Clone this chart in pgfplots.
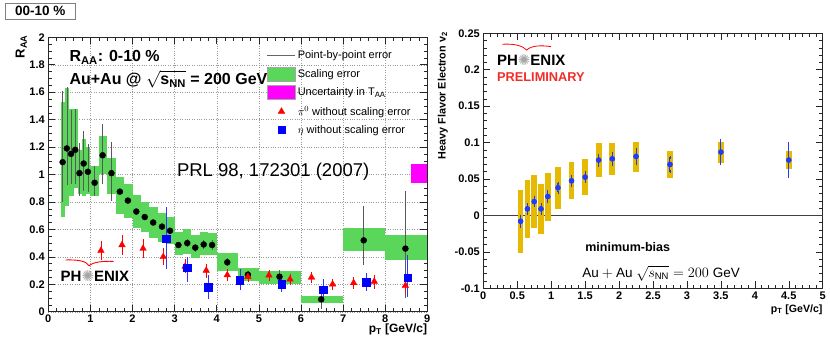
\documentclass[border=0pt]{standalone}
\usepackage{pgfplots}
\pgfplotsset{compat=1.18}
\usepackage{fontspec}
\setmainfont{Liberation Sans}
\newfontfamily\dejavu{DejaVu Sans}
\definecolor{sgreen}{RGB}{90,214,90}
\definecolor{tmag}{RGB}{255,0,255}
\definecolor{v2yellow}{RGB}{230,186,0}
\definecolor{v2blue}{RGB}{30,60,255}
\definecolor{prelred}{RGB}{240,45,40}
\newcommand{\fs}[1]{\fontsize{#1bp}{#1bp}\selectfont}
\newcommand{\phxlogo}{PH{\dejavu\color{black!35}\char"273A}ENIX}
\pgfplotsset{
  rootaxis/.style={
    scale only axis, anchor=south west, clip=true,
    axis line style={black!85, line width=0.6bp},
    tick style={black!85, line width=0.5bp},
    major tick length=7bp, minor tick length=3.5bp,
    tick align=inside, tick pos=both,
    tick label style={font=\bfseries\fs{11}},
    scaled ticks=false,
    /pgf/number format/fixed,
    /pgf/number format/precision=2,
    /pgf/number format/assume math mode=true,
  }
}
\begin{document}
\begin{tikzpicture}
\path[use as bounding box] (0,0) rectangle (830bp,348bp);

% ---------------- left panel ----------------
\begin{axis}[rootaxis, at={(48.3bp,36.3bp)}, width=379bp, height=274.4bp,
  xmin=0, xmax=9, ymin=0, ymax=2,
  xtick={0,1,2,3,4,5,6,7,8,9},
  ytick={0,0.2,0.4,0.6,0.8,1,1.2,1.4,1.6,1.8,2},
  minor x tick num=4, minor y tick num=3,
  grid=major, major grid style={dotted, black!40, line width=0.4bp},
  xlabel={p\textsubscript{T} [GeV/c]},
  xlabel style={at={(rel axis cs:1,0)}, anchor=north east, yshift=-12bp, inner sep=0pt, font=\bfseries\fs{12}},
  ylabel={R\textsubscript{AA}},
  ylabel style={at={(axis description cs:-0.056,1.008)}, anchor=south east, inner sep=0pt, font=\bfseries\fs{13}},
  legend style={at={(axis description cs:0.577,0.958)}, anchor=north west, draw=none, fill=none,
     font=\fs{11}, row sep=4.3bp, inner sep=0pt, cells={anchor=west}},
]
% scaling error boxes
\addplot[fill=sgreen, draw=none, forget plot] coordinates {(0.30,0.69) (0.40,0.69) (0.40,1.53) (0.30,1.53)};
\addplot[fill=sgreen, draw=none, forget plot] coordinates {(0.40,0.77) (0.50,0.77) (0.50,1.63) (0.40,1.63)};
\addplot[fill=sgreen, draw=none, forget plot] coordinates {(0.50,0.84) (0.60,0.84) (0.60,1.48) (0.50,1.48)};
\addplot[fill=sgreen, draw=none, forget plot] coordinates {(0.60,0.90) (0.70,0.90) (0.70,1.48) (0.60,1.48)};
\addplot[fill=sgreen, draw=none, forget plot] coordinates {(0.70,0.86) (0.80,0.86) (0.80,1.18) (0.70,1.18)};
\addplot[fill=sgreen, draw=none, forget plot] coordinates {(0.80,0.84) (0.90,0.84) (0.90,1.26) (0.80,1.26)};
\addplot[fill=sgreen, draw=none, forget plot] coordinates {(0.90,0.86) (1.00,0.86) (1.00,1.20) (0.90,1.20)};
\addplot[fill=sgreen, draw=none, forget plot] coordinates {(1.00,0.84) (1.20,0.84) (1.20,1.06) (1.00,1.06)};
\addplot[fill=sgreen, draw=none, forget plot] coordinates {(1.20,1.00) (1.40,1.00) (1.40,1.28) (1.20,1.28)};
\addplot[fill=sgreen, draw=none, forget plot] coordinates {(1.40,0.86) (1.60,0.86) (1.60,1.12) (1.40,1.12)};
\addplot[fill=sgreen, draw=none, forget plot] coordinates {(1.60,0.71) (1.80,0.71) (1.80,0.98) (1.60,0.98)};
\addplot[fill=sgreen, draw=none, forget plot] coordinates {(1.80,0.68) (2.00,0.68) (2.00,0.93) (1.80,0.93)};
\addplot[fill=sgreen, draw=none, forget plot] coordinates {(2.00,0.61) (2.20,0.61) (2.20,0.85) (2.00,0.85)};
\addplot[fill=sgreen, draw=none, forget plot] coordinates {(2.20,0.58) (2.40,0.58) (2.40,0.80) (2.20,0.80)};
\addplot[fill=sgreen, draw=none, forget plot] coordinates {(2.40,0.54) (2.60,0.54) (2.60,0.76) (2.40,0.76)};
\addplot[fill=sgreen, draw=none, forget plot] coordinates {(2.60,0.51) (2.80,0.51) (2.80,0.72) (2.60,0.72)};
\addplot[fill=sgreen, draw=none, forget plot] coordinates {(2.80,0.49) (3.00,0.49) (3.00,0.69) (2.80,0.69)};
\addplot[fill=sgreen, draw=none, forget plot] coordinates {(3.00,0.41) (3.20,0.41) (3.20,0.58) (3.00,0.58)};
\addplot[fill=sgreen, draw=none, forget plot] coordinates {(3.20,0.42) (3.40,0.42) (3.40,0.60) (3.20,0.60)};
\addplot[fill=sgreen, draw=none, forget plot] coordinates {(3.40,0.39) (3.60,0.39) (3.60,0.56) (3.40,0.56)};
\addplot[fill=sgreen, draw=none, forget plot] coordinates {(3.60,0.41) (3.80,0.41) (3.80,0.58) (3.60,0.58)};
\addplot[fill=sgreen, draw=none, forget plot] coordinates {(3.80,0.41) (4.00,0.41) (4.00,0.575) (3.80,0.575)};
\addplot[fill=sgreen, draw=none, forget plot] coordinates {(4.00,0.30) (4.50,0.30) (4.50,0.43) (4.00,0.43)};
\addplot[fill=sgreen, draw=none, forget plot] coordinates {(4.50,0.225) (5.00,0.225) (5.00,0.32) (4.50,0.32)};
\addplot[fill=sgreen, draw=none, forget plot] coordinates {(5.00,0.20) (6.00,0.20) (6.00,0.30) (5.00,0.30)};
\addplot[fill=sgreen, draw=none, forget plot] coordinates {(6.00,0.06) (7.00,0.06) (7.00,0.114) (6.00,0.114)};
\addplot[fill=sgreen, draw=none, forget plot] coordinates {(7.00,0.44) (8.00,0.44) (8.00,0.61) (7.00,0.61)};
\addplot[fill=sgreen, draw=none, forget plot] coordinates {(8.00,0.38) (9.00,0.38) (9.00,0.56) (8.00,0.56)};
% T_AA uncertainty
\addplot[fill=tmag, draw=none, forget plot] coordinates {(8.62,0.94) (9.00,0.94) (9.00,1.075) (8.62,1.075)};
% charged hadron R_AA (black)
\addplot[only marks, mark=*, mark size=3bp, black, forget plot,
  error bars/.cd, y dir=both, y explicit, error mark=none,
  error bar style={black!65, line width=0.5bp}]
coordinates {
 (0.34,1.09) += (0,0.52) -= (0,0.29)
 (0.44,1.19) += (0,0.45) -= (0,0.27)
 (0.54,1.15) += (0,0.32) -= (0,0.22)
 (0.64,1.18) += (0,0.30) -= (0,0.25)
 (0.74,1.01) += (0,0.22) -= (0,0.17)
 (0.84,1.08) += (0,0.24) -= (0,0.20)
 (0.94,1.02) += (0,0.20) -= (0,0.15)
 (1.10,0.94) += (0,0.12) -= (0,0.10)
 (1.29,1.14) += (0,0.23) -= (0,0.21)
 (1.50,1.01) += (0,0.23) -= (0,0.20)
 (1.70,0.875) += (0,0.02) -= (0,0.02)
 (1.89,0.81) += (0,0.02) -= (0,0.02)
 (2.09,0.73) += (0,0.02) -= (0,0.02)
 (2.29,0.69) += (0,0.02) -= (0,0.02)
 (2.49,0.65) += (0,0.02) -= (0,0.02)
 (2.70,0.62) += (0,0.02) -= (0,0.02)
 (2.89,0.59) += (0,0.02) -= (0,0.02)
 (3.09,0.486) += (0,0.025) -= (0,0.025)
 (3.30,0.50) += (0,0.03) -= (0,0.03)
 (3.49,0.467) += (0,0.03) -= (0,0.03)
 (3.69,0.49) += (0,0.035) -= (0,0.035)
 (3.89,0.486) += (0,0.035) -= (0,0.035)
 (4.25,0.36) += (0,0.03) -= (0,0.03)
 (4.74,0.27) += (0,0.03) -= (0,0.03)
 (5.49,0.255) += (0,0.05) -= (0,0.05)
 (6.48,0.09) += (0,0.06) -= (0,0.07)
 (7.49,0.52) += (0,0.25) -= (0,0.18)
 (8.48,0.46) += (0,0.42) -= (0,0.36)
};
% pi0 (red)
\addplot[only marks, mark=triangle*, mark size=3.8bp, red, forget plot,
  error bars/.cd, y dir=both, y explicit, error mark options={red, mark size=1.5bp},
  error bar style={red, line width=0.5bp}]
coordinates {
 (1.25,0.445) +- (0,0.06)
 (1.75,0.486) +- (0,0.06)
 (2.25,0.46) +- (0,0.06)
 (2.73,0.40) +- (0,0.05)
 (3.25,0.33) +- (0,0.04)
 (3.75,0.30) +- (0,0.04)
 (4.25,0.267) +- (0,0.03)
 (4.74,0.255) +- (0,0.03)
 (5.24,0.265) +- (0,0.03)
 (5.74,0.236) +- (0,0.03)
 (6.25,0.25) +- (0,0.03)
 (6.75,0.20) +- (0,0.03)
 (7.25,0.21) +- (0,0.03)
 (7.74,0.22) +- (0,0.04)
 (8.48,0.19) +- (0,0.04)
};
% eta (blue)
\addplot[only marks, mark=square*, mark size=3.7bp, blue, forget plot,
  error bars/.cd, y dir=both, y explicit, error mark=none,
  error bar style={blue!80, line width=0.5bp}]
coordinates {
 (2.80,0.53) += (0,0.23) -= (0,0.22)
 (3.30,0.32) += (0,0.08) -= (0,0.10)
 (3.80,0.18) += (0,0.09) -= (0,0.09)
 (4.55,0.23) += (0,0.08) -= (0,0.07)
 (5.54,0.20) += (0,0.07) -= (0,0.06)
 (6.53,0.16) += (0,0.08) -= (0,0.09)
 (7.55,0.215) += (0,0.07) -= (0,0.065)
 (8.53,0.25) += (0,0.16) -= (0,0.14)
};
% legend
\addlegendimage{legend image code/.code={\draw[black!60, line width=0.6bp] (0bp,0bp) -- (28bp,0bp);}}
\addlegendentry{Point-by-point error}
\addlegendimage{legend image code/.code={\draw[fill=sgreen, draw=black!35, line width=0.4bp] (0bp,-7bp) rectangle (28bp,7bp);}}
\addlegendentry{Scaling error}
\addlegendimage{legend image code/.code={\draw[fill=tmag, draw=black!35, line width=0.4bp] (0bp,-7bp) rectangle (28bp,7bp);}}
\addlegendentry{Uncertainty in T\textsubscript{AA}}
\addlegendimage{legend image code/.code={\path[red] plot[mark=triangle*, mark size=3.8bp] coordinates {(14bp,0bp)};}}
\addlegendentry{$\pi^0$ without scaling error}
\addlegendimage{legend image code/.code={\path[blue] plot[mark=square*, mark size=3.7bp] coordinates {(14bp,0bp)};}}
\addlegendentry{$\eta$ without scaling error}
% texts
\node[anchor=base west, inner sep=0pt, font=\bfseries\fs{16}] at (axis cs:0.5,1.82) {R\textsubscript{AA}: 0-10 \%};
\node[anchor=base west, inner sep=0pt, font=\bfseries\fs{16}] at (axis cs:0.5,1.655) {Au+Au @ $\sqrt{\raisebox{0pt}[\height][0pt]{s\textsubscript{NN}}}$ = 200 GeV};
\node[inner sep=0pt, font=\fs{18.5}] at (axis cs:5.34,1.018) {PRL 98, 172301 (2007)};
\node[anchor=west, inner sep=0pt, font=\bfseries\fs{15}] at (axis cs:0.29,0.26) {\phxlogo};
\draw[red, line width=0.9bp] (axis cs:0.41,0.377) .. controls (axis cs:0.7,0.38) and (axis cs:0.9,0.37) .. (axis cs:0.97,0.335)
   .. controls (axis cs:1.05,0.36) and (axis cs:1.3,0.372) .. (axis cs:1.55,0.366);
\end{axis}

% ---------------- right panel ----------------
\begin{axis}[rootaxis, at={(483.3bp,59.7bp)}, width=339.4bp, height=255bp,
  xmin=0, xmax=5, ymin=-0.1, ymax=0.25,
  xtick={0,0.5,1,1.5,2,2.5,3,3.5,4,4.5,5},
  ytick={-0.1,-0.05,0,0.05,0.1,0.15,0.2,0.25},
  minor x tick num=4, minor y tick num=4,
  xlabel={p\textsubscript{T} [GeV/c]},
  xlabel style={at={(rel axis cs:1,0)}, anchor=north east, yshift=-16bp, inner sep=0pt, font=\bfseries\fs{10.6}},
  ylabel={Heavy Flavor Electron v\textsubscript{2}},
  ylabel style={at={(axis description cs:-0.104,1.005)}, anchor=south east, inner sep=0pt, font=\bfseries\fs{10.8}},
]
\addplot[black!75, line width=0.7bp, forget plot] coordinates {(0,0) (5,0)};
% systematic boxes
\addplot[only marks, mark=none, forget plot,
  error bars/.cd, y dir=both, y explicit, error mark=none,
  error bar style={draw=v2yellow, line width=5.6bp}]
coordinates {
 (0.55,-0.008) += (0,0.043) -= (0,0.044)
 (0.65,0.009) += (0,0.040) -= (0,0.040)
 (0.75,0.019) += (0,0.037) -= (0,0.036)
 (0.85,0.009) += (0,0.034) -= (0,0.034)
 (0.95,0.026) += (0,0.032) -= (0,0.033)
 (1.10,0.038) += (0,0.029) -= (0,0.029)
 (1.30,0.0475) += (0,0.0255) -= (0,0.0255)
 (1.50,0.0526) += (0,0.0244) -= (0,0.0246)
 (1.70,0.076) += (0,0.023) -= (0,0.0234)
 (1.90,0.0777) += (0,0.0213) -= (0,0.0227)
 (2.25,0.081) += (0,0.020) -= (0,0.022)
 (2.75,0.070) += (0,0.019) -= (0,0.018)
 (3.50,0.087) += (0,0.014) -= (0,0.015)
 (4.50,0.076) += (0,0.012) -= (0,0.012)
};
% v2 points
\addplot[only marks, mark=*, mark size=2.6bp, v2blue, forget plot,
  error bars/.cd, y dir=both, y explicit, error mark options={v2blue, mark size=1.4bp, line width=0.8bp},
  error bar style={v2blue, line width=1bp}]
coordinates {
 (0.55,-0.008) +- (0,0.007)
 (0.65,0.009) +- (0,0.006)
 (0.75,0.019) +- (0,0.006)
 (0.85,0.009) +- (0,0.006)
 (0.95,0.026) +- (0,0.007)
 (1.10,0.038) +- (0,0.006)
 (1.30,0.0475) +- (0,0.006)
 (1.50,0.0526) +- (0,0.006)
 (1.70,0.076) +- (0,0.007)
 (1.90,0.0777) +- (0,0.008)
 (2.25,0.081) +- (0,0.010)
 (2.75,0.070) +- (0,0.010)
 (3.50,0.087) +- (0,0.016)
 (4.50,0.076) +- (0,0.023)
};
\node[anchor=west, inner sep=0pt, font=\bfseries\fs{15}] at (axis cs:0.2,0.2135) {\phxlogo};
\draw[red, line width=0.8bp] (axis cs:0.28,0.235) .. controls (axis cs:0.45,0.236) and (axis cs:0.58,0.233) .. (axis cs:0.64,0.227)
   .. controls (axis cs:0.70,0.233) and (axis cs:0.85,0.234) .. (axis cs:1.0,0.2316);
\node[anchor=west, inner sep=0pt, text=prelred, font=\bfseries\fs{12.8}] at (axis cs:0.2,0.19) {PRELIMINARY};
\node[anchor=west, inner sep=0pt, font=\bfseries\fs{12.5}] at (axis cs:1.5,-0.0436) {minimum-bias};
\node[anchor=west, inner sep=0pt, font=\fs{13.5}] at (axis cs:1.455,-0.0795) {$\mathrm{Au+Au}\ \sqrt{\raisebox{0pt}[\height][0pt]{$s_{\mathrm{NN}}$}} = 200\ \mathrm{GeV}$};
\end{axis}

% centrality tag
\node[draw=black!50, line width=0.6bp, minimum width=70bp, minimum height=16.6bp, inner sep=0pt,
  anchor=north west, font=\bfseries\fs{13.5}] at (5bp,345.3bp) {00-10 \%};
\end{tikzpicture}
\end{document}
